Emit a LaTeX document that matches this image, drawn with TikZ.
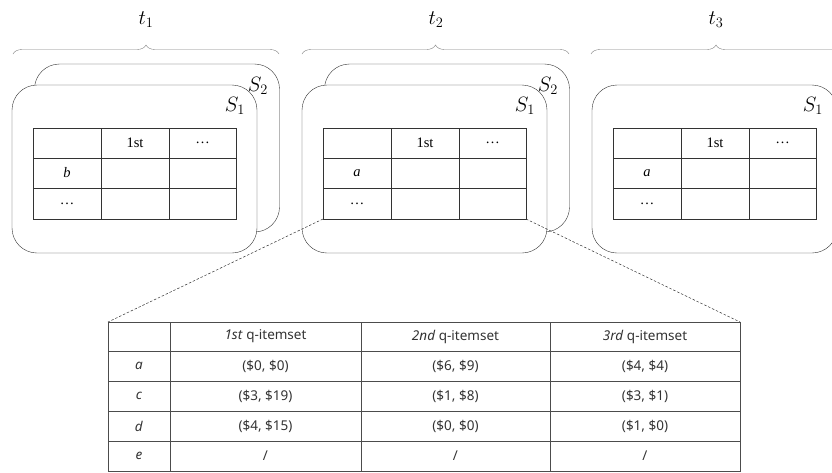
\documentclass[tikz,border=0pt]{standalone}
\usepackage{fontspec}
\setmainfont{Liberation Serif}
\newfontfamily\qfont{Noto Sans}
\usetikzlibrary{decorations.pathreplacing}
\definecolor{lineGray}{HTML}{333333}
\definecolor{braceGray}{HTML}{808080}
\tikzstyle{panelBox}=[draw = lineGray, fill = white, rounded corners = 25pt, minimum width = 245pt, minimum height = 168pt, inner sep = 0pt]
\tikzstyle{gridLine}=[draw = lineGray, line width = 0.7pt]
\tikzstyle{cellText}=[font = \fontsize{14.5}{17}\selectfont, inner sep = 1pt]
\tikzstyle{qCell}=[font = \qfont\fontsize{13.5}{16}\selectfont, text = black!80, inner sep = 1pt]
\tikzstyle{timeBrace}=[draw = braceGray, decorate, decoration = {brace, amplitude = 9pt}]
\tikzstyle{setLabel}=[font = \fontsize{22}{26}\selectfont, inner sep = 0pt]
\tikzstyle{zoomLine}=[draw = lineGray, dashed, dash pattern = on 2.5pt off 1.8pt, line width = 0.5pt]

\begin{document}
\begin{tikzpicture}[x = 1pt, y = -1pt]
\clip (0,0) rectangle (832,472);
% Time braces
\coordinate (b1l) at (13,54);
\coordinate (b1r) at (279,54);
\coordinate (b2l) at (302,54);
\coordinate (b2r) at (569,54);
\coordinate (b3l) at (591,54);
\coordinate (b3r) at (841,54);
\draw[timeBrace] (b1l) -- (b1r);
\draw[timeBrace] (b2l) -- (b2r);
\draw[timeBrace] (b3l) -- (b3r);
\node[setLabel] (t1) at (146,20) {$t_1$};
\node[setLabel] (t2) at (436,20) {$t_2$};
\node[setLabel] (t3) at (716,20) {$t_3$};
% Panel boxes
\node[panelBox] (back1) at (157,148) {};
\node[panelBox] (front1) at (134.5,169) {};
\node[panelBox] (back2) at (447,148) {};
\node[panelBox] (front2) at (424.5,169) {};
\node[panelBox] (front3) at (714.5,169) {};
\node[setLabel] (s21) at (258,86) {$S_2$};
\node[setLabel] (s11) at (235,106) {$S_1$};
\node[setLabel] (s22) at (548,86) {$S_2$};
\node[setLabel] (s12) at (525,106) {$S_1$};
\node[setLabel] (s13) at (813,106) {$S_1$};
% Small tables
\foreach \ox in {0, 290, 580} {
  \draw[gridLine] (33+\ox,128) rectangle (236+\ox,219);
  \draw[gridLine] (101+\ox,128) -- (101+\ox,219);
  \draw[gridLine] (169+\ox,128) -- (169+\ox,219);
  \draw[gridLine] (33+\ox,158) -- (236+\ox,158);
  \draw[gridLine] (33+\ox,188) -- (236+\ox,188);
}
\node[cellText] (c1a) at (135,143) {1st};
\node[cellText] (c1b) at (202.5,143) {\dots};
\node[cellText] (c1c) at (67,173) {\textit{b}};
\node[cellText] (c1d) at (67,203.5) {\dots};
\node[cellText] (c2a) at (425,143) {1st};
\node[cellText] (c2b) at (492.5,143) {\dots};
\node[cellText] (c2c) at (357,173) {\textit{a}};
\node[cellText] (c2d) at (357,203.5) {\dots};
\node[cellText] (c3a) at (715,143) {1st};
\node[cellText] (c3b) at (782.5,143) {\dots};
\node[cellText] (c3c) at (647,173) {\textit{a}};
\node[cellText] (c3d) at (647,203.5) {\dots};
% Zoom lines
\coordinate (zl) at (323,219);
\coordinate (zr) at (526,219);
\coordinate (bl) at (108,322);
\coordinate (br) at (740,322);
\draw[zoomLine] (zl) -- (bl);
\draw[zoomLine] (zr) -- (br);
% Big table
\draw[gridLine, draw = black!70] (108,322) rectangle (740,471);
\foreach \x in {170, 361, 550} {
  \draw[gridLine, draw = black!70] (\x,322) -- (\x,471);
}
\foreach \y in {351, 381, 411, 441} {
  \draw[gridLine, draw = black!70] (108,\y) -- (740,\y);
}
\node[qCell] (h1) at (265.5,336.5) {\textit{1st} q-itemset};
\node[qCell] (h2) at (455.5,336.5) {\textit{2nd} q-itemset};
\node[qCell] (h3) at (645,336.5) {\textit{3rd} q-itemset};
\node[qCell] (ra) at (139,366) {\textit{a}};
\node[qCell] (rc) at (139,396) {\textit{c}};
\node[qCell] (rd) at (139,426) {\textit{d}};
\node[qCell] (re) at (139,456) {\textit{e}};
\node[qCell] (a1) at (265.5,366) {(\$0, \$0)};
\node[qCell] (a2) at (455.5,366) {(\$6, \$9)};
\node[qCell] (a3) at (645,366) {(\$4, \$4)};
\node[qCell] (cc1) at (265.5,396) {(\$3, \$19)};
\node[qCell] (cc2) at (455.5,396) {(\$1, \$8)};
\node[qCell] (cc3) at (645,396) {(\$3, \$1)};
\node[qCell] (d1) at (265.5,426) {(\$4, \$15)};
\node[qCell] (d2) at (455.5,426) {(\$0, \$0)};
\node[qCell] (d3) at (645,426) {(\$1, \$0)};
\node[qCell] (e1) at (265.5,456) {/};
\node[qCell] (e2) at (455.5,456) {/};
\node[qCell] (e3) at (645,456) {/};
\end{tikzpicture}
\end{document}
